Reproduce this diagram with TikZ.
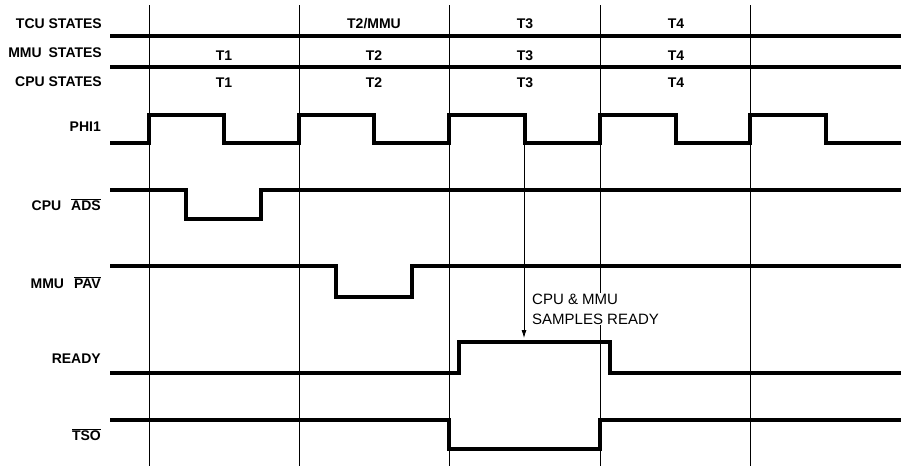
\documentclass[tikz,border=0pt]{standalone}
\usepackage{fontspec}
\setmainfont{Liberation Sans}
\usetikzlibrary{arrows.meta}

\newcommand{\ovl}[1]{$\overline{\mbox{#1}}$}

\begin{document}
\begin{tikzpicture}[x=1pt, y=-1pt,
  sig/.style={line width=3.2pt},
  grid/.style={line width=0.8pt},
  lbl/.style={anchor=east, inner sep=0pt, text height=10pt, text depth=0pt,
    font=\fontsize{14}{16}\selectfont\bfseries},
  st/.style={inner sep=0pt, text height=10pt, text depth=0pt,
    font=\fontsize{14}{16}\selectfont\bfseries}]
\useasboundingbox (0,0) rectangle (901,466);

% Clock boundaries
\draw[grid] (149,5) -- (149,466);
\draw[grid] (299,5) -- (299,466);
\draw[grid] (449,5) -- (449,466);
\draw[grid] (600,5) -- (600,466);
\draw[grid] (750,5) -- (750,466);

% State rows
\draw[sig] (110,36) -- (901,36);
\draw[sig] (110,67) -- (901,67);
\node[lbl] (tcu) at (102,23) {TCU STATES};
\node[lbl] (mmu) at (102,52) {MMU\hspace{3pt} STATES};
\node[lbl] (cpu) at (102,81) {CPU STATES};

\node[st] (tcuB) at (374,23) {T2/MMU};
\node[st] (tcuC) at (525,23) {T3};
\node[st] (tcuD) at (676,23) {T4};
\node[st] (mmuA) at (224,55) {T1};
\node[st] (mmuB) at (374,55) {T2};
\node[st] (mmuC) at (525,55) {T3};
\node[st] (mmuD) at (676,55) {T4};
\node[st] (cpuA) at (224,82) {T1};
\node[st] (cpuB) at (374,82) {T2};
\node[st] (cpuC) at (525,82) {T3};
\node[st] (cpuD) at (676,82) {T4};

% PHI1
\draw[sig] (110,143) -- (149,143) -- (149,115) -- (224,115) -- (224,143)
  -- (299,143) -- (299,115) -- (374,115) -- (374,143)
  -- (449,143) -- (449,115) -- (525,115) -- (525,143)
  -- (600,143) -- (600,115) -- (676,115) -- (676,143)
  -- (750,143) -- (750,115) -- (826,115) -- (826,143) -- (901,143);
\node[lbl] (phi) at (101,126) {PHI1};

% CPU ADS
\draw[sig] (110,190) -- (186,190) -- (186,219) -- (261,219) -- (261,190) -- (901,190);
\node[lbl] (ads) at (101,205) {CPU\hspace{10pt}\ovl{ADS}};

% MMU PAV
\draw[sig] (110,266) -- (336,266) -- (336,297) -- (412,297) -- (412,266) -- (901,266);
\node[lbl] (pav) at (101,283) {MMU\hspace{10pt}\ovl{PAV}};

% READY
\draw[sig] (110,373) -- (459,373) -- (459,342) -- (610,342) -- (610,373) -- (901,373);
\node[lbl] (rdy) at (101,358) {READY};

% TSO
\draw[sig] (110,420) -- (449,420) -- (449,449) -- (600,449) -- (600,420) -- (901,420);
\node[lbl] (tso) at (101,435) {\ovl{TSO}};

% Sample point
\coordinate (fall) at (524,143);
\coordinate (samp) at (524,338);
\draw[grid, -{Latex[length=8pt,width=5pt]}] (fall) -- (samp);
\node[anchor=west, align=left, fill=white, inner sep=1pt,
  font=\fontsize{15}{20}\selectfont] (note) at (531,309) {CPU \& MMU\\SAMPLES READY};
\end{tikzpicture}
\end{document}
